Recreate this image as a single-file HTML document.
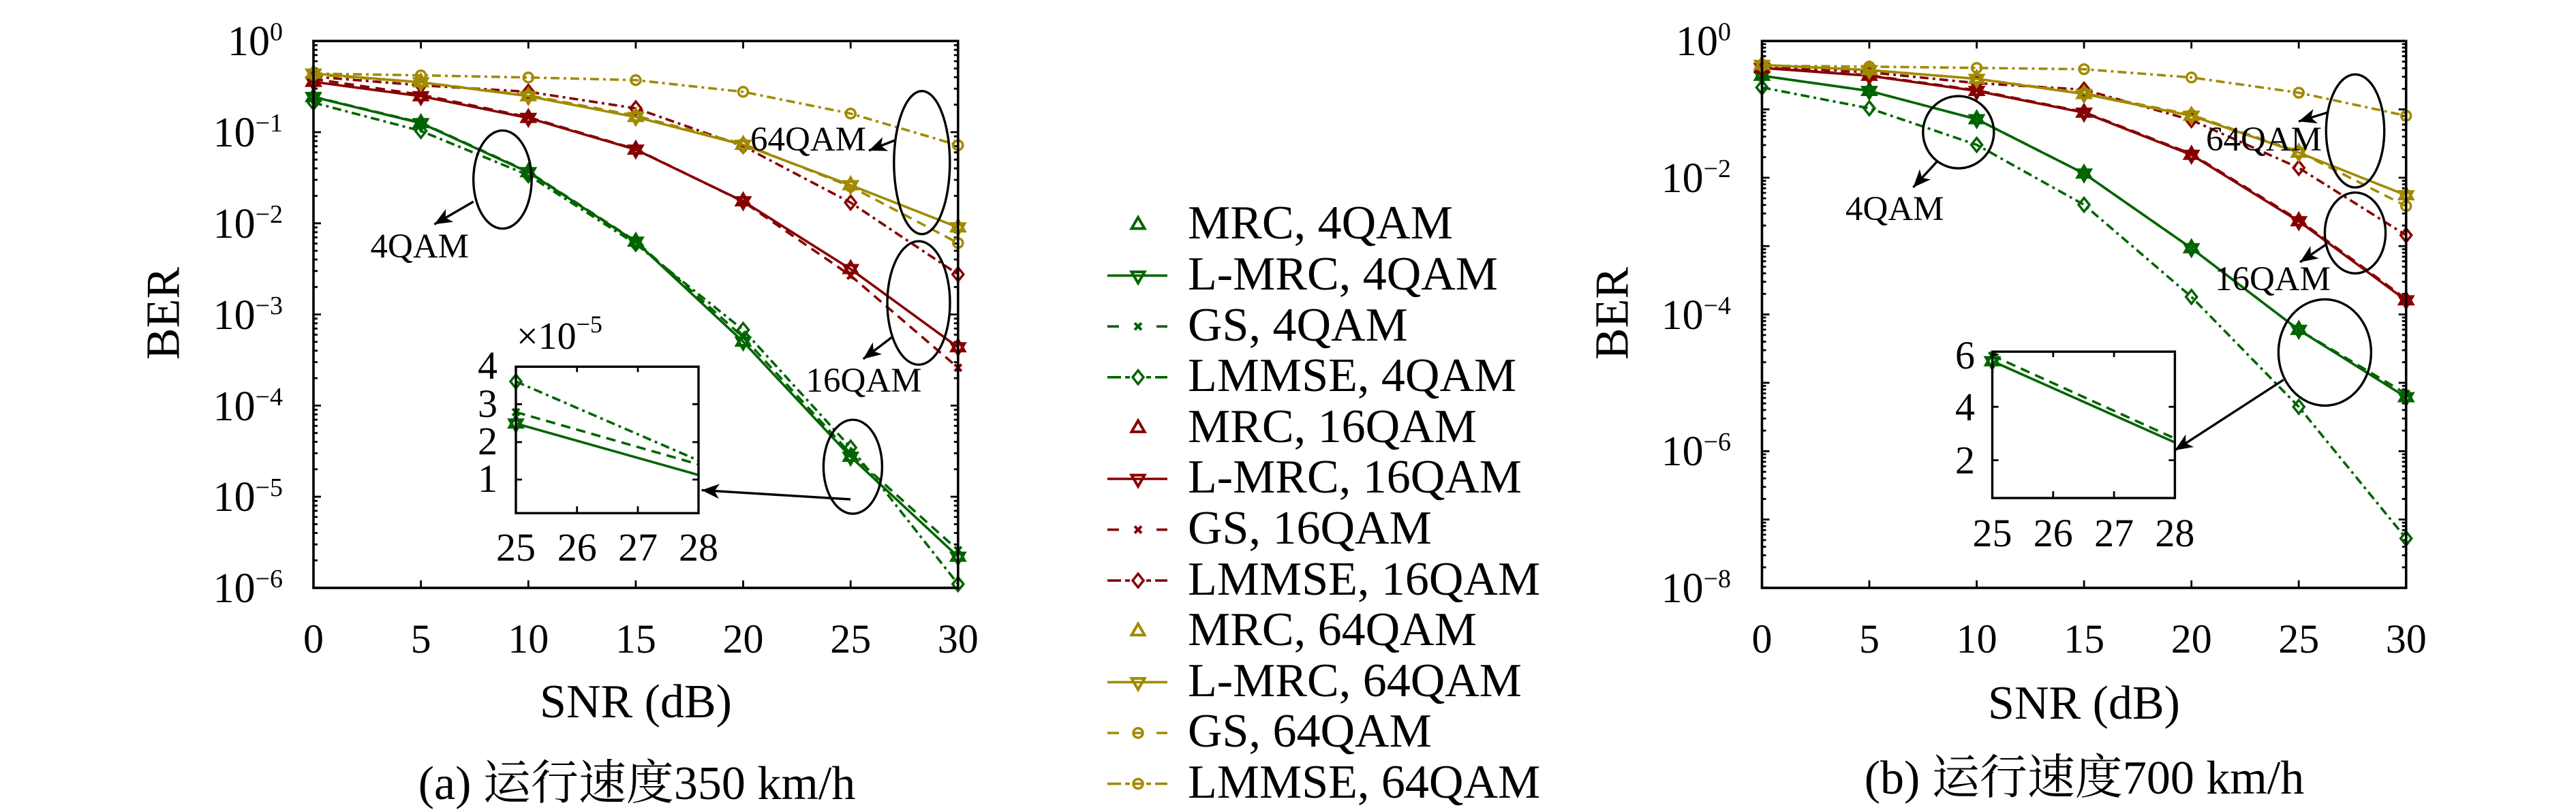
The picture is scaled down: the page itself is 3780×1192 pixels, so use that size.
<!DOCTYPE html>
<html><head><meta charset="utf-8"><style>
html,body{margin:0;padding:0;background:#fff}
#wrap{position:relative;width:3780px;height:1192px;overflow:hidden}
svg{display:block;position:absolute;left:0;top:0}
.t{position:absolute;white-space:nowrap;line-height:1;font-family:"Liberation Serif","Times New Roman","DejaVu Serif","Noto Serif CJK SC",serif;color:#000;margin:0;padding:0}
.m{transform:translateX(-50%)}
.e{transform:translateX(-100%)}
.f62{font-size:62px}.f60{font-size:60px}.f70{font-size:70px}.f51{font-size:51px}.f58{font-size:58px}
.sup{position:relative;top:-22px;font-size:38px}
</style></head><body>
<div id="wrap">
<svg xmlns="http://www.w3.org/2000/svg" xmlns:xlink="http://www.w3.org/1999/xlink" width="3780" height="1192" viewBox="0 0 3780 1192">
<defs>
<path id="tu" d="M0,-11L9.5,5.5L-9.5,5.5Z"/>
<path id="td" d="M0,11L9.5,-5.5L-9.5,-5.5Z"/>
<path id="xm" d="M-5,-5L5,5M-5,5L5,-5"/>
<path id="dm" d="M0,-10L8,0L0,10L-8,0Z"/>
<circle id="cm" r="7"/>
<marker id="ah" viewBox="-28 -12 30 24" refX="0" refY="0" markerWidth="30" markerHeight="24" markerUnits="userSpaceOnUse" orient="auto"><path d="M0,0L-26,-11L-19,0L-26,11Z" fill="#000"/></marker>
<path id="dL" d="M460,0h11M1405.8,0h-11M460,-40.3h6M460,-63.8h6M460,-80.6h6M460,-93.5h6M460,-104.1h6M460,-113.1h6M460,-120.8h6M460,-127.7h6M1405.8,-40.3h-6M1405.8,-63.8h-6M1405.8,-80.6h-6M1405.8,-93.5h-6M1405.8,-104.1h-6M1405.8,-113.1h-6M1405.8,-120.8h-6M1405.8,-127.7h-6" stroke="#000" stroke-width="2.8" fill="none"/>
<path id="dR" d="M2585.5,0h11M3530.7,0h-11M2585.5,-30.2h6M2585.5,-47.9h6M2585.5,-60.4h6M2585.5,-70.1h6M2585.5,-78.1h6M2585.5,-84.8h6M2585.5,-90.6h6M2585.5,-95.8h6M3530.7,-30.2h-6M3530.7,-47.9h-6M3530.7,-60.4h-6M3530.7,-70.1h-6M3530.7,-78.1h-6M3530.7,-84.8h-6M3530.7,-90.6h-6M3530.7,-95.8h-6" stroke="#000" stroke-width="2.8" fill="none"/>
</defs>
<rect width="3780" height="1192" fill="#fff"/>

<!-- ================= LEFT PLOT ================= -->
<g>
<use xlink:href="#dL" y="194"/><use xlink:href="#dL" y="327.8"/><use xlink:href="#dL" y="461.6"/><use xlink:href="#dL" y="595.4"/><use xlink:href="#dL" y="729.2"/><use xlink:href="#dL" y="863"/>
<path d="M617.6,863v-11M775.3,863v-11M932.9,863v-11M1090.5,863v-11M1248.2,863v-11M617.6,60.2v11M775.3,60.2v11M932.9,60.2v11M1090.5,60.2v11M1248.2,60.2v11" stroke="#000" stroke-width="2.8"/>
</g>

<g stroke="#006400" fill="none" stroke-width="3.6">
<polyline points="460,142.4 617.6,180.7 775.3,252.8 932.9,354.8 1090.5,501.5 1248.2,670.5 1405.8,817.2"/>
<polyline points="460,142 617.6,180 775.3,252 932.9,354 1090.5,495 1248.2,666 1405.8,807.6" stroke-dasharray="14 9"/>
<polyline points="460,150.7 617.6,192.2 775.3,257.2 932.9,358 1090.5,484.3 1248.2,657 1405.8,857.4" stroke-dasharray="13 6 4 6"/>
<g stroke-width="4">
<use xlink:href="#tu" x="460" y="142.4"/><use xlink:href="#tu" x="617.6" y="180.7"/><use xlink:href="#tu" x="775.3" y="252.8"/><use xlink:href="#tu" x="932.9" y="354.8"/><use xlink:href="#tu" x="1090.5" y="501.5"/><use xlink:href="#tu" x="1248.2" y="670.5"/><use xlink:href="#tu" x="1405.8" y="817.2"/>
<use xlink:href="#td" x="460" y="142.4"/><use xlink:href="#td" x="617.6" y="180.7"/><use xlink:href="#td" x="775.3" y="252.8"/><use xlink:href="#td" x="932.9" y="354.8"/><use xlink:href="#td" x="1090.5" y="501.5"/><use xlink:href="#td" x="1248.2" y="670.5"/><use xlink:href="#td" x="1405.8" y="817.2"/>
<use xlink:href="#xm" x="460" y="142"/><use xlink:href="#xm" x="617.6" y="180"/><use xlink:href="#xm" x="775.3" y="252"/><use xlink:href="#xm" x="932.9" y="354"/><use xlink:href="#xm" x="1090.5" y="495"/><use xlink:href="#xm" x="1248.2" y="666"/><use xlink:href="#xm" x="1405.8" y="807.6"/>
</g>
<g stroke-width="3.5">
<use xlink:href="#dm" x="460" y="150.7"/><use xlink:href="#dm" x="617.6" y="192.2"/><use xlink:href="#dm" x="775.3" y="257.2"/><use xlink:href="#dm" x="932.9" y="358"/><use xlink:href="#dm" x="1090.5" y="484.3"/><use xlink:href="#dm" x="1248.2" y="657"/><use xlink:href="#dm" x="1405.8" y="857.4"/>
</g>
</g>

<g stroke="#870000" fill="none" stroke-width="3.6">
<polyline points="460,120.1 617.6,141.2 775.3,173.1 932.9,219.6 1090.5,295.5 1248.2,395 1405.8,509.8"/>
<polyline points="460,116 617.6,139 775.3,172 932.9,219 1090.5,296 1248.2,404.6 1405.8,539.8" stroke-dasharray="14 9"/>
<polyline points="460,112.5 617.6,125.2 775.3,134.8 932.9,159 1090.5,214.5 1248.2,297.4 1405.8,402.7" stroke-dasharray="13 6 4 6"/>
<g stroke-width="4">
<use xlink:href="#tu" x="460" y="120.1"/><use xlink:href="#tu" x="617.6" y="141.2"/><use xlink:href="#tu" x="775.3" y="173.1"/><use xlink:href="#tu" x="932.9" y="219.6"/><use xlink:href="#tu" x="1090.5" y="295.5"/><use xlink:href="#tu" x="1248.2" y="395"/><use xlink:href="#tu" x="1405.8" y="509.8"/>
<use xlink:href="#td" x="460" y="120.1"/><use xlink:href="#td" x="617.6" y="141.2"/><use xlink:href="#td" x="775.3" y="173.1"/><use xlink:href="#td" x="932.9" y="219.6"/><use xlink:href="#td" x="1090.5" y="295.5"/><use xlink:href="#td" x="1248.2" y="395"/><use xlink:href="#td" x="1405.8" y="509.8"/>
<use xlink:href="#xm" x="460" y="116"/><use xlink:href="#xm" x="617.6" y="139"/><use xlink:href="#xm" x="775.3" y="172"/><use xlink:href="#xm" x="932.9" y="219"/><use xlink:href="#xm" x="1090.5" y="296"/><use xlink:href="#xm" x="1248.2" y="404.6"/><use xlink:href="#xm" x="1405.8" y="539.8"/>
</g>
<g stroke-width="3.5">
<use xlink:href="#dm" x="460" y="112.5"/><use xlink:href="#dm" x="617.6" y="125.2"/><use xlink:href="#dm" x="775.3" y="134.8"/><use xlink:href="#dm" x="932.9" y="159"/><use xlink:href="#dm" x="1090.5" y="214.5"/><use xlink:href="#dm" x="1248.2" y="297.4"/><use xlink:href="#dm" x="1405.8" y="402.7"/>
</g>
</g>

<g stroke="#a08a00" fill="none" stroke-width="3.6">
<polyline points="460,108 617.6,120.8 775.3,141.2 932.9,171.8 1090.5,212.6 1248.2,271.9 1405.8,333.8"/>
<polyline points="460,109.3 617.6,120.8 775.3,139.9 932.9,169.9 1090.5,211.3 1248.2,273.8 1405.8,356.7" stroke-dasharray="14 9"/>
<polyline points="460,108 617.6,110.6 775.3,113.75 932.9,117.6 1090.5,134.8 1248.2,166.7 1405.8,213.2" stroke-dasharray="13 6 4 6"/>
<g stroke-width="4">
<use xlink:href="#tu" x="460" y="108"/><use xlink:href="#tu" x="617.6" y="120.8"/><use xlink:href="#tu" x="775.3" y="141.2"/><use xlink:href="#tu" x="932.9" y="171.8"/><use xlink:href="#tu" x="1090.5" y="212.6"/><use xlink:href="#tu" x="1248.2" y="271.9"/><use xlink:href="#tu" x="1405.8" y="333.8"/>
<use xlink:href="#td" x="460" y="108"/><use xlink:href="#td" x="617.6" y="120.8"/><use xlink:href="#td" x="775.3" y="141.2"/><use xlink:href="#td" x="932.9" y="171.8"/><use xlink:href="#td" x="1090.5" y="212.6"/><use xlink:href="#td" x="1248.2" y="271.9"/><use xlink:href="#td" x="1405.8" y="333.8"/>
</g>
<g stroke-width="3.5">
<use xlink:href="#cm" x="460" y="109.3"/><use xlink:href="#cm" x="617.6" y="120.8"/><use xlink:href="#cm" x="775.3" y="139.9"/><use xlink:href="#cm" x="932.9" y="169.9"/><use xlink:href="#cm" x="1090.5" y="211.3"/><use xlink:href="#cm" x="1248.2" y="273.8"/><use xlink:href="#cm" x="1405.8" y="356.7"/>
<use xlink:href="#cm" x="460" y="108"/><use xlink:href="#cm" x="617.6" y="110.6"/><use xlink:href="#cm" x="775.3" y="113.75"/><use xlink:href="#cm" x="932.9" y="117.6"/><use xlink:href="#cm" x="1090.5" y="134.8"/><use xlink:href="#cm" x="1248.2" y="166.7"/><use xlink:href="#cm" x="1405.8" y="213.2"/>
</g>
</g>

<rect x="460" y="60.2" width="945.8" height="802.8" fill="none" stroke="#000" stroke-width="3.6"/>

<g fill="none" stroke="#000" stroke-width="3.4">
<ellipse cx="737.4" cy="263.6" rx="42.7" ry="72"/>
<ellipse cx="1352.8" cy="238.7" rx="41" ry="105"/>
<ellipse cx="1348" cy="444.7" rx="46" ry="90.6"/>
<ellipse cx="1251.4" cy="685.2" rx="43" ry="69"/>
<line x1="694.7" y1="296" x2="637.3" y2="329.3" marker-end="url(#ah)"/>
<line x1="1313" y1="206" x2="1275" y2="221" marker-end="url(#ah)"/>
<line x1="1308.8" y1="495" x2="1266.7" y2="527" marker-end="url(#ah)"/>
<line x1="1248" y1="733" x2="1029.5" y2="719.6" marker-end="url(#ah)"/>
</g>

<rect x="757" y="538.3" width="268" height="215" fill="#fff" stroke="none"/>
<g stroke="#006400" fill="none" stroke-width="3.6">
<line x1="757" y1="621.7" x2="1025" y2="697.3"/>
<line x1="757" y1="605" x2="1025" y2="681.7" stroke-dasharray="14 9"/>
<line x1="757" y1="560" x2="1025" y2="676" stroke-dasharray="13 6 4 6"/>
<g stroke-width="4"><use xlink:href="#tu" x="757" y="621.7"/><use xlink:href="#td" x="757" y="621.7"/><use xlink:href="#xm" x="757" y="605"/></g>
<use xlink:href="#dm" x="757" y="560" stroke-width="3.5"/>
</g>
<rect x="757" y="538.3" width="268" height="215" fill="none" stroke="#000" stroke-width="3.4"/>
<path d="M757,704h9M757,649h9M757,593.3h9M1025,704h-9M1025,649h-9M1025,593.3h-9M846.7,753.3v-10M936,753.3v-10M846.7,538.3v8M936,538.3v8" stroke="#000" stroke-width="2.8"/>

<!-- ================= LEGEND ================= -->
<g fill="none" stroke-width="4">
<g stroke="#006400">
<use xlink:href="#tu" x="1670" y="330"/>
<line x1="1625" y1="404.6" x2="1713" y2="404.6" stroke-width="3.6"/><use xlink:href="#td" x="1670" y="404.6"/>
<path d="M1625,479.2h17M1697,479.2h16" stroke-width="3.6"/><use xlink:href="#xm" x="1670" y="479.2"/>
<path d="M1625,553.8h20M1651,553.8h7M1682,553.8h7M1695,553.8h18" stroke-width="3.6"/><use xlink:href="#dm" x="1670" y="553.8" stroke-width="3.5"/>
</g>
<g stroke="#870000">
<use xlink:href="#tu" x="1670" y="628.4"/>
<line x1="1625" y1="703" x2="1713" y2="703" stroke-width="3.6"/><use xlink:href="#td" x="1670" y="703"/>
<path d="M1625,777.6h17M1697,777.6h16" stroke-width="3.6"/><use xlink:href="#xm" x="1670" y="777.6"/>
<path d="M1625,852.2h20M1651,852.2h7M1682,852.2h7M1695,852.2h18" stroke-width="3.6"/><use xlink:href="#dm" x="1670" y="852.2" stroke-width="3.5"/>
</g>
<g stroke="#a08a00">
<use xlink:href="#tu" x="1670" y="926.8"/>
<line x1="1625" y1="1001.4" x2="1713" y2="1001.4" stroke-width="3.6"/><use xlink:href="#td" x="1670" y="1001.4"/>
<path d="M1625,1076h17M1697,1076h16M1664,1076h12" stroke-width="3.6"/><use xlink:href="#cm" x="1670" y="1076" stroke-width="3.5"/>
<path d="M1625,1150.6h20M1651,1150.6h7M1682,1150.6h7M1695,1150.6h18M1664,1150.6h12" stroke-width="3.6"/><use xlink:href="#cm" x="1670" y="1150.6" stroke-width="3.5"/>
</g>
</g>

<!-- ================= RIGHT PLOT ================= -->
<g>
<use xlink:href="#dR" y="160.55"/><use xlink:href="#dR" y="260.9"/><use xlink:href="#dR" y="361.25"/><use xlink:href="#dR" y="461.6"/><use xlink:href="#dR" y="561.95"/><use xlink:href="#dR" y="662.3"/><use xlink:href="#dR" y="762.65"/><use xlink:href="#dR" y="863"/>
<path d="M2743,863v-11M2900.6,863v-11M3058.1,863v-11M3215.7,863v-11M3373.2,863v-11M2743,60.2v11M2900.6,60.2v11M3058.1,60.2v11M3215.7,60.2v11M3373.2,60.2v11" stroke="#000" stroke-width="2.8"/>
</g>

<g stroke="#006400" fill="none" stroke-width="3.6">
<polyline points="2585.5,111.2 2743,133.5 2900.6,175 3058.1,254.7 3215.7,364.4 3373.2,484.3 3530.7,583.1"/>
<polyline points="2585.5,111.2 2743,133.5 2900.6,175 3058.1,254.7 3215.7,364.4 3373.2,484.3 3530.7,578" stroke-dasharray="14 9"/>
<polyline points="2585.5,128.4 2743,159 2900.6,212.6 3058.1,300.6 3215.7,435.8 3373.2,597.2 3530.7,790.4" stroke-dasharray="13 6 4 6"/>
<g stroke-width="4">
<use xlink:href="#tu" x="2585.5" y="111.2"/><use xlink:href="#tu" x="2743" y="133.5"/><use xlink:href="#tu" x="2900.6" y="175"/><use xlink:href="#tu" x="3058.1" y="254.7"/><use xlink:href="#tu" x="3215.7" y="364.4"/><use xlink:href="#tu" x="3373.2" y="484.3"/><use xlink:href="#tu" x="3530.7" y="583.1"/>
<use xlink:href="#td" x="2585.5" y="111.2"/><use xlink:href="#td" x="2743" y="133.5"/><use xlink:href="#td" x="2900.6" y="175"/><use xlink:href="#td" x="3058.1" y="254.7"/><use xlink:href="#td" x="3215.7" y="364.4"/><use xlink:href="#td" x="3373.2" y="484.3"/><use xlink:href="#td" x="3530.7" y="583.1"/>
<use xlink:href="#xm" x="2585.5" y="111.2"/><use xlink:href="#xm" x="2743" y="133.5"/><use xlink:href="#xm" x="2900.6" y="175"/><use xlink:href="#xm" x="3058.1" y="254.7"/><use xlink:href="#xm" x="3215.7" y="364.4"/><use xlink:href="#xm" x="3373.2" y="484.3"/><use xlink:href="#xm" x="3530.7" y="578"/>
</g>
<g stroke-width="3.5">
<use xlink:href="#dm" x="2585.5" y="128.4"/><use xlink:href="#dm" x="2743" y="159"/><use xlink:href="#dm" x="2900.6" y="212.6"/><use xlink:href="#dm" x="3058.1" y="300.6"/><use xlink:href="#dm" x="3215.7" y="435.8"/><use xlink:href="#dm" x="3373.2" y="597.2"/><use xlink:href="#dm" x="3530.7" y="790.4"/>
</g>
</g>

<g stroke="#870000" fill="none" stroke-width="3.6">
<polyline points="2585.5,99.7 2743,111.2 2900.6,133.5 3058.1,165.4 3215.7,227.3 3373.2,324.8 3530.7,440.9"/>
<polyline points="2585.5,99 2743,110.5 2900.6,132.5 3058.1,164.5 3215.7,226 3373.2,323 3530.7,439" stroke-dasharray="14 9"/>
<polyline points="2585.5,97.8 2743,106.1 2900.6,122 3058.1,131.6 3215.7,176.2 3373.2,246.4 3530.7,345.3" stroke-dasharray="13 6 4 6"/>
<g stroke-width="4">
<use xlink:href="#tu" x="2585.5" y="99.7"/><use xlink:href="#tu" x="2743" y="111.2"/><use xlink:href="#tu" x="2900.6" y="133.5"/><use xlink:href="#tu" x="3058.1" y="165.4"/><use xlink:href="#tu" x="3215.7" y="227.3"/><use xlink:href="#tu" x="3373.2" y="324.8"/><use xlink:href="#tu" x="3530.7" y="440.9"/>
<use xlink:href="#td" x="2585.5" y="99.7"/><use xlink:href="#td" x="2743" y="111.2"/><use xlink:href="#td" x="2900.6" y="133.5"/><use xlink:href="#td" x="3058.1" y="165.4"/><use xlink:href="#td" x="3215.7" y="227.3"/><use xlink:href="#td" x="3373.2" y="324.8"/><use xlink:href="#td" x="3530.7" y="440.9"/>
<use xlink:href="#xm" x="2585.5" y="99"/><use xlink:href="#xm" x="2743" y="110.5"/><use xlink:href="#xm" x="2900.6" y="132.5"/><use xlink:href="#xm" x="3058.1" y="164.5"/><use xlink:href="#xm" x="3215.7" y="226"/><use xlink:href="#xm" x="3373.2" y="323"/><use xlink:href="#xm" x="3530.7" y="439"/>
</g>
<g stroke-width="3.5">
<use xlink:href="#dm" x="2585.5" y="97.8"/><use xlink:href="#dm" x="2743" y="106.1"/><use xlink:href="#dm" x="2900.6" y="122"/><use xlink:href="#dm" x="3058.1" y="131.6"/><use xlink:href="#dm" x="3215.7" y="176.2"/><use xlink:href="#dm" x="3373.2" y="246.4"/><use xlink:href="#dm" x="3530.7" y="345.3"/>
</g>
</g>

<g stroke="#a08a00" fill="none" stroke-width="3.6">
<polyline points="2585.5,95.3 2743,102.9 2900.6,115.7 3058.1,138 3215.7,169.9 3373.2,224.1 3530.7,286.6"/>
<polyline points="2585.5,95.3 2743,102.9 2900.6,115.7 3058.1,136.7 3215.7,168.6 3373.2,222.8 3530.7,302.5" stroke-dasharray="14 9"/>
<polyline points="2585.5,96.5 2743,97.8 2900.6,99.7 3058.1,101.6 3215.7,113.75 3373.2,136.1 3530.7,169.9" stroke-dasharray="13 6 4 6"/>
<g stroke-width="4">
<use xlink:href="#tu" x="2585.5" y="95.3"/><use xlink:href="#tu" x="2743" y="102.9"/><use xlink:href="#tu" x="2900.6" y="115.7"/><use xlink:href="#tu" x="3058.1" y="138"/><use xlink:href="#tu" x="3215.7" y="169.9"/><use xlink:href="#tu" x="3373.2" y="224.1"/><use xlink:href="#tu" x="3530.7" y="286.6"/>
<use xlink:href="#td" x="2585.5" y="95.3"/><use xlink:href="#td" x="2743" y="102.9"/><use xlink:href="#td" x="2900.6" y="115.7"/><use xlink:href="#td" x="3058.1" y="138"/><use xlink:href="#td" x="3215.7" y="169.9"/><use xlink:href="#td" x="3373.2" y="224.1"/><use xlink:href="#td" x="3530.7" y="286.6"/>
</g>
<g stroke-width="3.5">
<use xlink:href="#cm" x="2585.5" y="95.3"/><use xlink:href="#cm" x="2743" y="102.9"/><use xlink:href="#cm" x="2900.6" y="115.7"/><use xlink:href="#cm" x="3058.1" y="136.7"/><use xlink:href="#cm" x="3215.7" y="168.6"/><use xlink:href="#cm" x="3373.2" y="222.8"/><use xlink:href="#cm" x="3530.7" y="302.5"/>
<use xlink:href="#cm" x="2585.5" y="96.5"/><use xlink:href="#cm" x="2743" y="97.8"/><use xlink:href="#cm" x="2900.6" y="99.7"/><use xlink:href="#cm" x="3058.1" y="101.6"/><use xlink:href="#cm" x="3215.7" y="113.75"/><use xlink:href="#cm" x="3373.2" y="136.1"/><use xlink:href="#cm" x="3530.7" y="169.9"/>
</g>
</g>

<rect x="2585.5" y="60.2" width="945.2" height="802.8" fill="none" stroke="#000" stroke-width="3.6"/>

<g fill="none" stroke="#000" stroke-width="3.4">
<ellipse cx="2873.8" cy="194.1" rx="52" ry="53"/>
<ellipse cx="3456" cy="192.2" rx="42.7" ry="83"/>
<ellipse cx="3456" cy="342" rx="44.6" ry="59.3"/>
<ellipse cx="3411.4" cy="517.4" rx="68" ry="78"/>
<line x1="2843.8" y1="235.6" x2="2807.4" y2="275.1" marker-end="url(#ah)"/>
<line x1="3414.6" y1="165.4" x2="3373" y2="178.2" marker-end="url(#ah)"/>
<line x1="3414.6" y1="358" x2="3375" y2="384.8" marker-end="url(#ah)"/>
<line x1="3350.8" y1="557.6" x2="3191.4" y2="661" marker-end="url(#ah)"/>
</g>

<rect x="2923.5" y="516.2" width="267.9" height="214.9" fill="#fff" stroke="none"/>
<g stroke="#006400" fill="none" stroke-width="3.6">
<line x1="2923.5" y1="530.2" x2="3191.4" y2="649.5"/>
<line x1="2923.5" y1="521.9" x2="3191.4" y2="643.7" stroke-dasharray="14 9"/>
<g stroke-width="4"><use xlink:href="#tu" x="2923.5" y="530.2"/><use xlink:href="#td" x="2923.5" y="530.2"/><use xlink:href="#xm" x="2923.5" y="521.9"/></g>
</g>
<rect x="2923.5" y="516.2" width="267.9" height="214.9" fill="none" stroke="#000" stroke-width="3.4"/>
<path d="M2923.5,675.6h9M2923.5,597.2h9M2923.5,520.6h9M3191.4,675.6h-9M3191.4,597.2h-9M3012.8,731.1v-10M3102.1,731.1v-10M3012.8,516.2v8M3102.1,516.2v8" stroke="#000" stroke-width="2.8"/>
</svg>

<!-- ============ TEXT (HTML) ============ -->
<!-- left y ticks -->
<div class="t f62 e" style="left:415px;top:30.1px">10<span class="sup">0</span></div>
<div class="t f62 e" style="left:415px;top:164.1px">10<span class="sup">−1</span></div>
<div class="t f62 e" style="left:415px;top:297.9px">10<span class="sup">−2</span></div>
<div class="t f62 e" style="left:415px;top:431.7px">10<span class="sup">−3</span></div>
<div class="t f62 e" style="left:415px;top:565.5px">10<span class="sup">−4</span></div>
<div class="t f62 e" style="left:415px;top:699.3px">10<span class="sup">−5</span></div>
<div class="t f62 e" style="left:415px;top:833.1px">10<span class="sup">−6</span></div>
<!-- left x ticks -->
<div class="t f60 m" style="left:460px;top:907.75px">0</div>
<div class="t f60 m" style="left:617.6px;top:907.75px">5</div>
<div class="t f60 m" style="left:775.3px;top:907.75px">10</div>
<div class="t f60 m" style="left:932.9px;top:907.75px">15</div>
<div class="t f60 m" style="left:1090.5px;top:907.75px">20</div>
<div class="t f60 m" style="left:1248.2px;top:907.75px">25</div>
<div class="t f60 m" style="left:1405.8px;top:907.75px">30</div>
<div class="t f70 m" style="left:933px;top:996.4px">SNR (dB)</div>
<div class="t f70" style="left:264px;top:460px;transform-origin:0 0;transform:rotate(-90deg) translate(-50%,-58.6px)">BER</div>
<div class="t f70 m" style="left:934.5px;top:1116.4px">(a) 运行速度350 km/h</div>
<!-- left annotations -->
<div class="t f51" style="left:543.5px;top:337.3px">4QAM</div>
<div class="t f51" style="left:1101px;top:180.3px">64QAM</div>
<div class="t f51" style="left:1182.5px;top:534.3px">16QAM</div>
<!-- left inset labels -->
<div class="t f58 e" style="left:730px;top:508.4px">4</div>
<div class="t f58 e" style="left:730px;top:564.4px">3</div>
<div class="t f58 e" style="left:730px;top:619.4px">2</div>
<div class="t f58 e" style="left:730px;top:674.4px">1</div>
<div class="t f58 m" style="left:757px;top:775.4px">25</div>
<div class="t f58 m" style="left:846.7px;top:775.4px">26</div>
<div class="t f58 m" style="left:936px;top:775.4px">27</div>
<div class="t f58 m" style="left:1025px;top:775.4px">28</div>
<div class="t" style="left:758px;top:466.1px;font-size:56px">×10<span style="position:relative;top:-24px;font-size:36px">−5</span></div>

<!-- legend -->
<div class="t f70" style="left:1743px;top:293.4px">MRC, 4QAM</div>
<div class="t f70" style="left:1743px;top:368px">L-MRC, 4QAM</div>
<div class="t f70" style="left:1743px;top:442.6px">GS, 4QAM</div>
<div class="t f70" style="left:1743px;top:517.2px">LMMSE, 4QAM</div>
<div class="t f70" style="left:1743px;top:591.8px">MRC, 16QAM</div>
<div class="t f70" style="left:1743px;top:666.4px">L-MRC, 16QAM</div>
<div class="t f70" style="left:1743px;top:741px">GS, 16QAM</div>
<div class="t f70" style="left:1743px;top:815.6px">LMMSE, 16QAM</div>
<div class="t f70" style="left:1743px;top:890.2px">MRC, 64QAM</div>
<div class="t f70" style="left:1743px;top:964.8px">L-MRC, 64QAM</div>
<div class="t f70" style="left:1743px;top:1039.4px">GS, 64QAM</div>
<div class="t f70" style="left:1743px;top:1114px">LMMSE, 64QAM</div>

<!-- right y ticks -->
<div class="t f62 e" style="left:2540px;top:30.1px">10<span class="sup">0</span></div>
<div class="t f62 e" style="left:2540px;top:231.1px">10<span class="sup">−2</span></div>
<div class="t f62 e" style="left:2540px;top:431.7px">10<span class="sup">−4</span></div>
<div class="t f62 e" style="left:2540px;top:632.4px">10<span class="sup">−6</span></div>
<div class="t f62 e" style="left:2540px;top:833.1px">10<span class="sup">−8</span></div>
<!-- right x ticks -->
<div class="t f60 m" style="left:2585.5px;top:907.75px">0</div>
<div class="t f60 m" style="left:2743px;top:907.75px">5</div>
<div class="t f60 m" style="left:2900.6px;top:907.75px">10</div>
<div class="t f60 m" style="left:3058.1px;top:907.75px">15</div>
<div class="t f60 m" style="left:3215.7px;top:907.75px">20</div>
<div class="t f60 m" style="left:3373.2px;top:907.75px">25</div>
<div class="t f60 m" style="left:3530.7px;top:907.75px">30</div>
<div class="t f70 m" style="left:3058px;top:998.4px">SNR (dB)</div>
<div class="t f70" style="left:2390px;top:460px;transform-origin:0 0;transform:rotate(-90deg) translate(-50%,-58.6px)">BER</div>
<div class="t f70 m" style="left:3058.5px;top:1108.4px">(b) 运行速度700 km/h</div>
<!-- right annotations -->
<div class="t f51" style="left:2708px;top:282.3px">4QAM</div>
<div class="t f51" style="left:3237px;top:180.3px">64QAM</div>
<div class="t f51" style="left:3250px;top:385.3px">16QAM</div>
<!-- right inset labels -->
<div class="t f58 e" style="left:2898px;top:493.4px">6</div>
<div class="t f58 e" style="left:2898px;top:569.4px">4</div>
<div class="t f58 e" style="left:2898px;top:647.4px">2</div>
<div class="t f58 m" style="left:2923.5px;top:754.4px">25</div>
<div class="t f58 m" style="left:3012.8px;top:754.4px">26</div>
<div class="t f58 m" style="left:3102.1px;top:754.4px">27</div>
<div class="t f58 m" style="left:3191.4px;top:754.4px">28</div>
</div>
</body></html>
